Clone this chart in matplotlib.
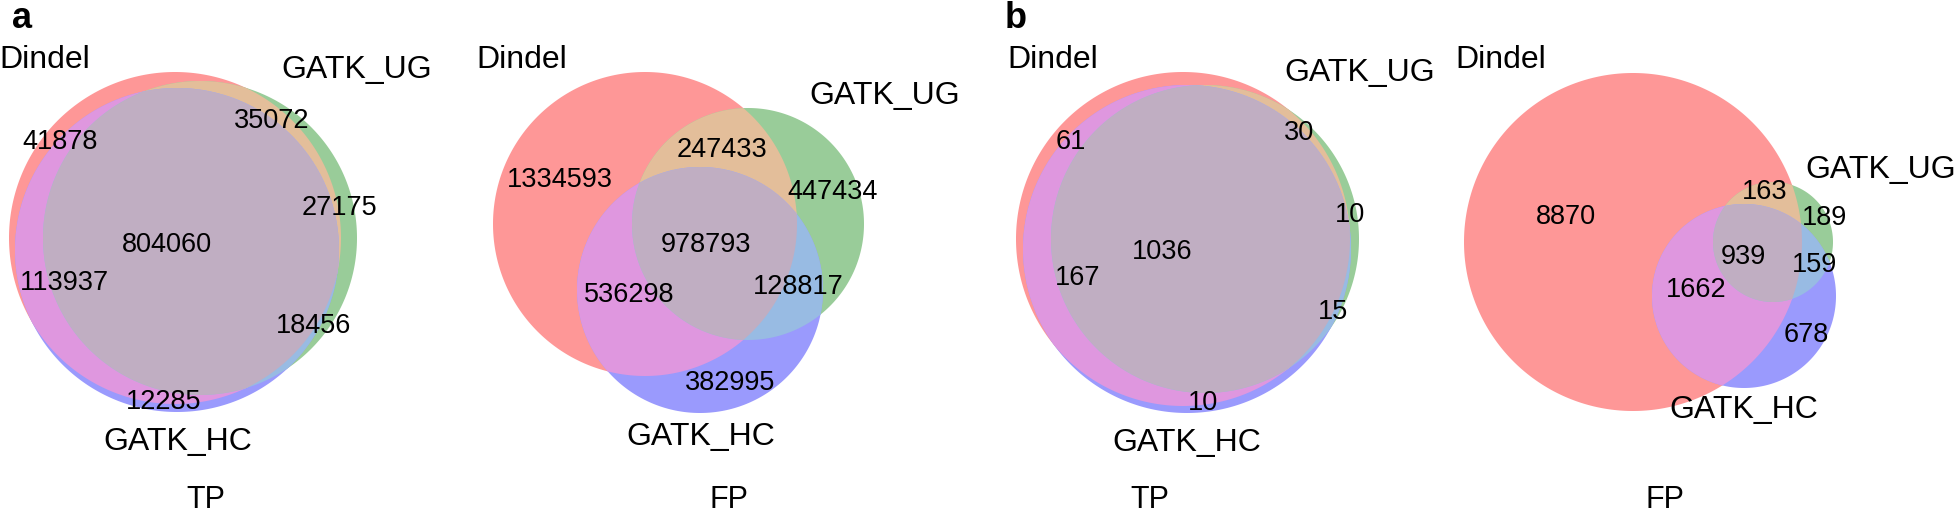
import numpy as np
import matplotlib.pyplot as plt
from matplotlib.patches import Polygon

plt.rcParams['font.family'] = ['Liberation Sans', 'DejaVu Sans']

# region order: Dindel only, UG only, HC only, Dindel&UG, Dindel&HC, UG&HC, all three
set_names = ['Dindel', 'GATK_UG', 'GATK_HC']
tp_a = [41878, 27175, 12285, 35072, 113937, 18456, 804060]
fp_a = [1334593, 447434, 382995, 247433, 536298, 128817, 978793]
tp_b = [61, 10, 10, 30, 167, 15, 1036]
fp_b = [8870, 189, 678, 163, 1662, 159, 939]
titles = ['TP', 'FP', 'TP', 'FP']

c_red = '#FE9797'
c_green = '#99CC99'
c_blue = '#9A9AFD'
c_rg = '#E3BE9A'
c_rb = '#DF97DF'
c_gb = '#98BBE3'
c_rgb = '#C0AEC2'

# layout (pixel coords): circles (cx, cy, r) for Dindel, UG, HC
circles = [
    [(175, 238, 166), (200, 238, 157), (177, 250, 162)],
    [(645, 224, 152), (748, 224, 116), (700, 290, 123)],
    [(1183, 239, 167), (1205, 239, 154), (1187, 249, 164)],
    [(1633, 242, 169), (1773, 242, 60), (1744, 296, 92)],
]
# count label positions, same region order
num_pos = [
    [(60, 142), (339, 208), (164, 402), (272, 121), (64, 283), (314, 326), (167, 245)],
    [(560, 180), (833, 192), (730, 383), (722, 150), (629, 295), (798, 287), (706, 245)],
    [(1071, 142), (1350, 215), (1203, 403), (1299, 133), (1078, 278), (1333, 312), (1162, 252)],
    [(1566, 217), (1824, 218), (1806, 335), (1765, 192), (1696, 290), (1814, 265), (1743, 257)],
]
# set name positions
name_pos = [
    [(45, 60), (357, 70), (178, 442)],
    [(522, 60), (885, 96), (701, 437)],
    [(1053, 60), (1360, 73), (1187, 443)],
    [(1501, 60), (1881, 170), (1744, 410)],
]
title_pos = [(206, 500), (729, 500), (1150, 500), (1665, 500)]


def circle_poly(c, n=400):
    t = np.linspace(0, 2 * np.pi, n, endpoint=False)
    return np.column_stack([c[0] + c[2] * np.cos(t), c[1] + c[2] * np.sin(t)])


def clip(subject, clipper):
    # Sutherland-Hodgman, clipper is convex
    def inside(p, a, b):
        return (b[0] - a[0]) * (p[1] - a[1]) - (b[1] - a[1]) * (p[0] - a[0]) >= 0

    def cross_pt(p1, p2, a, b):
        d1 = p2 - p1
        d2 = b - a
        den = d1[0] * d2[1] - d1[1] * d2[0]
        t = ((a[0] - p1[0]) * d2[1] - (a[1] - p1[1]) * d2[0]) / den
        return p1 + t * d1

    out = list(subject)
    for i in range(len(clipper)):
        a, b = clipper[i], clipper[(i + 1) % len(clipper)]
        inp = out
        out = []
        if not inp:
            break
        s = inp[-1]
        for e in inp:
            if inside(e, a, b):
                if not inside(s, a, b):
                    out.append(cross_pt(s, e, a, b))
                out.append(e)
            elif inside(s, a, b):
                out.append(cross_pt(s, e, a, b))
            s = e
    return np.array(out)


fig = plt.figure(figsize=(19.57, 5.12), dpi=100)
ax = fig.add_axes([0, 0, 1, 1])
ax.set_xlim(0, 1957)
ax.set_ylim(512, 0)
ax.axis('off')

panels = [tp_a, fp_a, tp_b, fp_b]
for k, counts in enumerate(panels):
    pr, pg, pb = [circle_poly(c) for c in circles[k]]
    for poly, col in [(pr, c_red), (pg, c_green), (pb, c_blue)]:
        ax.add_patch(Polygon(poly, closed=True, fc=col, ec='none'))
    for p1, p2, col in [(pr, pg, c_rg), (pr, pb, c_rb), (pg, pb, c_gb)]:
        inter = clip(p1, p2)
        if len(inter) > 2:
            ax.add_patch(Polygon(inter, closed=True, fc=col, ec='none'))
    tri = clip(clip(pr, pg), pb)
    if len(tri) > 2:
        ax.add_patch(Polygon(tri, closed=True, fc=c_rgb, ec='none'))

    for v, (x, y) in zip(counts, num_pos[k]):
        ax.text(x, y, str(v), ha='center', va='center', fontsize=19.5)
    for nm, (x, y) in zip(set_names, name_pos[k]):
        ax.text(x, y, nm, ha='center', va='center', fontsize=23)
    ax.text(title_pos[k][0], title_pos[k][1], titles[k], ha='center', va='center', fontsize=22)

ax.text(22, 19, 'a', ha='center', va='center', fontsize=26, fontweight='bold')
ax.text(1016, 19, 'b', ha='center', va='center', fontsize=26, fontweight='bold')

fig.savefig('out.png', dpi=100)
